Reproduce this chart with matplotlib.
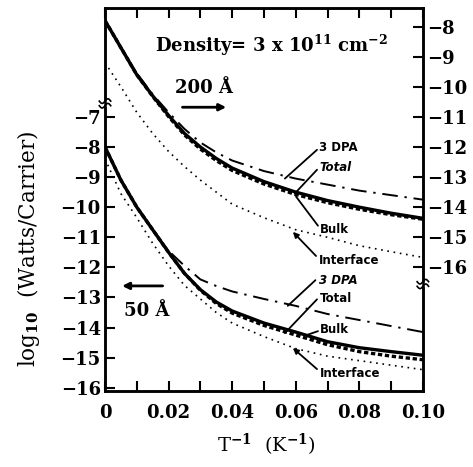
import numpy as np
import matplotlib
matplotlib.use("Agg")
import matplotlib.pyplot as plt

plt.rcParams['font.family'] = ['DejaVu Serif']
plt.rcParams['font.weight'] = 'bold'
plt.rcParams['mathtext.fontset'] = 'dejavuserif'
plt.rcParams['mathtext.default'] = 'bf'

# x grid (inverse temperature, 1/K)
x = [0.0, 0.005, 0.01, 0.015, 0.02, 0.025, 0.03, 0.035, 0.04, 0.05,
     0.06, 0.07, 0.08, 0.09, 0.10]

# 200 A well (right axis)
w200_total = [-7.8, -8.7, -9.6, -10.3, -10.95, -11.55, -12.0, -12.38, -12.7, -13.15,
              -13.5, -13.78, -14.0, -14.2, -14.37]
w200_bulk = [-7.8, -8.7, -9.6, -10.32, -10.99, -11.6, -12.07, -12.45, -12.78, -13.23,
             -13.58, -13.85, -14.07, -14.25, -14.4]
w200_3dpa = [-7.8, -8.7, -9.55, -10.25, -10.85, -11.4, -11.85, -12.18, -12.45, -12.8,
             -13.05, -13.25, -13.45, -13.6, -13.75]
w200_interface = [-9.2, -10.0, -10.85, -11.55, -12.15, -12.65, -13.1, -13.5, -13.9, -14.35,
                  -14.75, -15.0, -15.28, -15.48, -15.67]

# 50 A well (left axis)
w50_total = [-8.0, -9.1, -10.0, -10.75, -11.5, -12.2, -12.74, -13.15, -13.45, -13.85,
             -14.15, -14.47, -14.67, -14.8, -14.92]
w50_bulk = [-8.0, -9.1, -10.0, -10.75, -11.5, -12.2, -12.76, -13.2, -13.52, -13.93,
            -14.25, -14.57, -14.8, -14.95, -15.07]
w50_3dpa = [-8.0, -9.1, -10.0, -10.75, -11.45, -11.95, -12.4, -12.62, -12.8, -13.05,
            -13.28, -13.55, -13.75, -13.95, -14.15]
w50_interface = [-8.4, -9.55, -10.35, -11.2, -11.95, -12.6, -13.05, -13.5, -13.85, -14.3,
                 -14.7, -14.95, -15.1, -15.25, -15.4]

xticks = [0, 0.02, 0.04, 0.06, 0.08, 0.10]
xticklabels = ['0', '0.02', '0.04', '0.06', '0.08', '0.10']
left_ticks = list(range(-16, -6))
right_ticks = list(range(-16, -7))

fig = plt.figure(figsize=(4.73, 4.67), dpi=100)
ax = fig.add_axes([0.222, 0.162, 0.672, 0.821])
ax2 = ax.twinx()

styles = dict(
    total=dict(color='black', lw=2.4, ls='-'),
    bulk=dict(color='black', lw=2.4, ls=(0, (1.3, 0.8))),
    dpa=dict(color='black', lw=1.4, ls=(0, (8, 3.5, 1.2, 3.5))),
    inter=dict(color='black', lw=1.2, ls=(0, (1, 2.8))),
)

ax.plot(x, w50_3dpa, **styles['dpa'])
ax.plot(x, w50_interface, **styles['inter'])
ax.plot(x, w50_bulk, **styles['bulk'])
ax.plot(x, w50_total, **styles['total'])

ax2.plot(x, w200_3dpa, **styles['dpa'])
ax2.plot(x, w200_interface, **styles['inter'])
ax2.plot(x, w200_bulk, **styles['bulk'])
ax2.plot(x, w200_total, **styles['total'])

ax.set_xlim(0, 0.10)
ax.set_ylim(-16.12, -3.38)
ax2.set_ylim(-20.12, -7.38)

ax.set_xticks(xticks)
ax.set_xticklabels(xticklabels)
ax.set_xticks(np.arange(0, 0.1001, 0.01), minor=True)
ax.set_yticks(left_ticks)
ax.set_yticklabels([f'\u2212{abs(v)}' for v in left_ticks])
ax2.set_yticks(right_ticks)
ax2.set_yticklabels([f'\u2212{abs(v)}' for v in right_ticks])

for a in (ax, ax2):
    for s in a.spines.values():
        s.set_linewidth(1.8)
ax.tick_params(axis='x', which='both', direction='in', top=True, length=7, width=1.5,
               labelsize=13, pad=9)
ax.tick_params(axis='y', direction='in', length=7, width=1.5, labelsize=13, pad=3)
ax2.tick_params(axis='y', direction='in', length=7, width=1.5, labelsize=13, pad=3)

ax.set_xlabel('T$^{-1}$  (K$^{-1}$)', fontsize=14)
ax.xaxis.set_label_coords(0.509, -0.105)
ax.set_ylabel('log$_{10}$  (Watts/Carrier)', fontsize=15.5)
ax.yaxis.set_label_coords(-0.198, 0.372)

# axis breaks
def brk(xf, yf):
    t = np.linspace(-1, 1, 30)
    ax.add_patch(plt.Rectangle((xf - 0.006, yf - 0.006), 0.012, 0.012,
                               transform=ax.transAxes, color='white', clip_on=False,
                               zorder=4))
    for dy in (-0.006, 0.006):
        ax.plot(xf + 0.018 * t, yf + dy + 0.006 * np.sin(np.pi * t), color='black',
                lw=1.2, transform=ax.transAxes, clip_on=False, zorder=5)
brk(0.0, 0.751)
brk(1.0, 0.280)

ax.text(0.525, 0.903, 'Density= 3 x 10$^{11}$ cm$^{-2}$', transform=ax.transAxes,
        ha='center', va='center', fontsize=13)
ax.text(0.311, 0.79, '200 Å', transform=ax.transAxes, ha='center', va='center', fontsize=13)
ax.text(0.13, 0.209, '50 Å', transform=ax.transAxes, ha='center', va='center', fontsize=13)
ax.annotate('', xy=(0.39, 0.741), xytext=(0.235, 0.741), xycoords='axes fraction',
            arrowprops=dict(arrowstyle='-|>', lw=2, color='black', mutation_scale=10))
ax.annotate('', xy=(0.045, 0.275), xytext=(0.19, 0.275), xycoords='axes fraction',
            arrowprops=dict(arrowstyle='-|>', lw=2, color='black', mutation_scale=10))

lab_font = dict(family='DejaVu Sans', fontsize=8.5, fontweight='bold',
                transform=ax.transAxes, ha='left', va='center')
labels = [
    ('3 DPA', 0.672, 0.636, (0.667, 0.630), (0.566, 0.555), '-', 'normal'),
    ('Total', 0.676, 0.584, (0.667, 0.578), (0.597, 0.516), '-', 'italic'),
    ('Bulk', 0.676, 0.421, (0.670, 0.432), (0.601, 0.508), '-', 'normal'),
    ('Interface', 0.674, 0.340, (0.664, 0.353), (0.591, 0.416), '-|>', 'normal'),
    ('3 DPA', 0.674, 0.288, (0.662, 0.290), (0.575, 0.223), '-', 'italic'),
    ('Total', 0.676, 0.243, (0.667, 0.240), (0.566, 0.152), '-', 'normal'),
    ('Bulk', 0.676, 0.162, (0.670, 0.157), (0.635, 0.147), '-', 'normal'),
    ('Interface', 0.676, 0.047, (0.667, 0.058), (0.591, 0.113), '-|>', 'normal'),
]
for txt, tx, ty, p0, p1, st, fs in labels:
    ax.text(tx, ty, txt, fontstyle=fs, **lab_font)
    ax.annotate('', xy=p1, xytext=p0, xycoords='axes fraction',
                arrowprops=dict(arrowstyle=st, lw=1.3, color='black',
                                mutation_scale=8, shrinkA=0, shrinkB=0))

fig.savefig('out.png', dpi=100)
